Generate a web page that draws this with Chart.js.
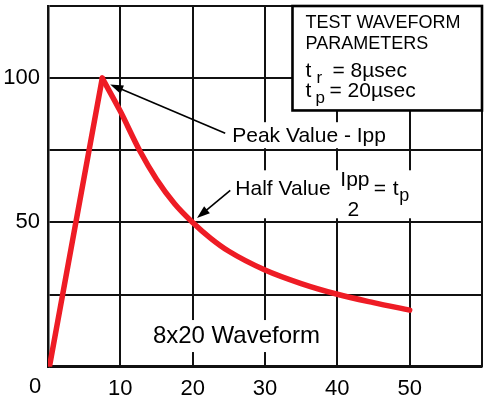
<!DOCTYPE html>
<html lang="en">
<head>
<meta charset="UTF-8">
<title>8x20 Waveform</title>
<script src="https://cdn.jsdelivr.net/npm/chart.js"></script>
<style>
  html, body { margin: 0; padding: 0; background: #fff; }
  canvas { display: block; }
</style>
</head>
<body>
<canvas id="waveChart" width="488" height="402"></canvas>
<script>
// values (time in µs, current in % of Ipp)
const riseTime = [0.2, 7.5];
const riseCurrent = [0, 100];
const decayTime = [7.5, 10, 12.65, 15, 17.5, 20, 22.5, 25, 30, 35, 40, 45, 50];
const decayCurrent = [100, 88.5, 75, 65, 56.5, 50, 44.5, 40, 33.5, 28.8, 25.1, 22.2, 19.6];

// tick labels (the shared "0" sits in the corner)
const xTickValues = [10, 20, 30, 40, 50];
const yTickValues = [50, 100];
const cornerLabel = '0';

const FONT = '"Liberation Sans", Arial, Helvetica, sans-serif';
const RED = '#ee1c25';

function toPoints(xs, ys) {
    return xs.map((x, i) => ({ x: x, y: ys[i] }));
}

function arrow(ctx, x1, y1, x2, y2) {
    const ang = Math.atan2(y2 - y1, x2 - x1);
    const len = 13, half = 4.5;
    ctx.beginPath();
    ctx.moveTo(x1, y1);
    ctx.lineTo(x2 - Math.cos(ang) * len * 0.8, y2 - Math.sin(ang) * len * 0.8);
    ctx.lineWidth = 1.6;
    ctx.strokeStyle = '#000';
    ctx.stroke();
    ctx.beginPath();
    ctx.moveTo(x2, y2);
    ctx.lineTo(x2 - Math.cos(ang) * len - Math.sin(ang) * half, y2 - Math.sin(ang) * len + Math.cos(ang) * half);
    ctx.lineTo(x2 - Math.cos(ang) * len + Math.sin(ang) * half, y2 - Math.sin(ang) * len - Math.cos(ang) * half);
    ctx.closePath();
    ctx.fillStyle = '#000';
    ctx.fill();
}

// callouts, text box and arrows, anchored in data units
const annotations = {
    id: 'annotations',
    beforeDatasetsDraw(chart) {
        const { ctx, chartArea: area, scales: { x, y } } = chart;
        const px = v => x.getPixelForValue(v);
        const py = v => y.getPixelForValue(v);
        const font = s => s + 'px ' + FONT;

        ctx.save();
        ctx.textBaseline = 'alphabetic';
        ctx.textAlign = 'left';

        // Peak Value - Ipp
        let ax = px(25.47), ay = py(77.8);
        ctx.font = font(21);
        let w = ctx.measureText('Peak Value - Ipp').width;
        ctx.fillStyle = '#fff';
        ctx.fillRect(ax - 4, ay - 20, w + 8, 26);
        ctx.fillStyle = '#000';
        ctx.fillText('Peak Value - Ipp', ax, ay);
        arrow(ctx, px(24.5), py(80.9), px(8.6), py(97.8));

        // Half Value Ipp/2 = tp
        ax = px(25.9); ay = py(59.4);
        ctx.fillStyle = '#fff';
        ctx.fillRect(ax - 4, ay - 25, 183, 48);
        ctx.fillStyle = '#000';
        ctx.font = font(21);
        ctx.fillText('Half Value', ax, ay);
        ctx.fillText('Ipp', ax + 105, ay - 9);
        ctx.textAlign = 'center';
        ctx.fillText('2', ax + 118, ay + 21);
        ctx.textAlign = 'left';
        ctx.fillText('=', ax + 138.5, ay);
        ctx.fillText('t', ax + 157.5, ay);
        ctx.font = font(18);
        ctx.fillText('p', ax + 164, ay + 6);
        arrow(ctx, px(25.2), py(61.1), px(20.6), py(51.5));

        // 8x20 Waveform
        ax = px(14.5); ay = py(8.2);
        ctx.font = font(24);
        w = ctx.measureText('8x20 Waveform').width;
        ctx.fillStyle = '#fff';
        ctx.fillRect(ax - 4, ay - 23, w + 8, 32);
        ctx.fillStyle = '#000';
        ctx.fillText('8x20 Waveform', ax, ay);

        // parameter box
        const bl = px(33.8), bt = area.top, br = area.right, bb = py(88.8);
        ctx.fillStyle = '#fff';
        ctx.fillRect(bl, bt, br - bl, bb - bt);
        ctx.lineWidth = 2.6;
        ctx.strokeStyle = '#000';
        ctx.strokeRect(bl, bt, br - bl, bb - bt);
        ctx.fillStyle = '#000';
        const tx = bl + 13;
        ctx.font = font(18);
        ctx.fillText('TEST WAVEFORM', tx, bt + 22);
        ctx.fillText('PARAMETERS', tx, bt + 43);
        ctx.font = font(21);
        ctx.fillText('t', tx, bt + 71);
        ctx.fillText('= 8\u00b5sec', tx + 27, bt + 71);
        ctx.fillText('t', tx, bt + 90.5);
        ctx.fillText('= 20\u00b5sec', tx + 24, bt + 90.5);
        ctx.font = font(17);
        ctx.fillText('r', tx + 11, bt + 77);
        ctx.fillText('p', tx + 10, bt + 96.5);
        ctx.restore();
    },
    afterDraw(chart) {
        const { ctx, chartArea: area, scales: { x } } = chart;
        ctx.save();
        ctx.font = '22px ' + FONT;
        ctx.fillStyle = '#000';
        ctx.textAlign = 'center';
        ctx.textBaseline = 'middle';
        ctx.fillText(cornerLabel, x.getPixelForValue(0) - 13, area.bottom + 20.5);
        ctx.restore();
    }
};

const lineStyle = {
    borderColor: RED,
    borderWidth: 5.5,
    borderCapStyle: 'round',
    borderJoinStyle: 'round',
    pointRadius: 0,
    fill: false
};

new Chart(document.getElementById('waveChart'), {
    type: 'line',
    data: {
        datasets: [
            Object.assign({ label: 'rise', data: toPoints(riseTime, riseCurrent), tension: 0 }, lineStyle),
            Object.assign({ label: 'decay', data: toPoints(decayTime, decayCurrent), cubicInterpolationMode: 'monotone' }, lineStyle)
        ]
    },
    options: {
        responsive: false,
        animation: false,
        devicePixelRatio: 1,
        layout: { padding: { top: 6, right: 6, left: 0, bottom: 0 } },
        plugins: {
            legend: { display: false },
            tooltip: { enabled: false }
        },
        scales: {
            x: {
                type: 'linear',
                min: 0,
                max: 60,
                afterFit: s => { s.height = 35.3; s.paddingLeft = 0; s.paddingRight = 0; },
                ticks: {
                    stepSize: 10,
                    padding: 9,
                    color: '#000',
                    font: { family: FONT, size: 22 },
                    maxRotation: 0,
                    callback: v => xTickValues.includes(v) ? String(v) : ''
                },
                grid: { color: '#111', lineWidth: 2, drawTicks: false },
                border: { display: true, color: '#111', width: 2.5 }
            },
            y: {
                type: 'linear',
                min: 0,
                max: 125,
                afterFit: s => { s.width = 48; s.paddingTop = 0; s.paddingBottom = 0; },
                ticks: {
                    stepSize: 25,
                    padding: 8,
                    color: '#000',
                    font: { family: FONT, size: 22 },
                    callback: v => yTickValues.includes(v) ? String(v) : ''
                },
                grid: { color: '#111', lineWidth: 2, drawTicks: false },
                border: { display: true, color: '#111', width: 2.5 }
            }
        }
    },
    plugins: [annotations]
});
</script>
</body>
</html>
